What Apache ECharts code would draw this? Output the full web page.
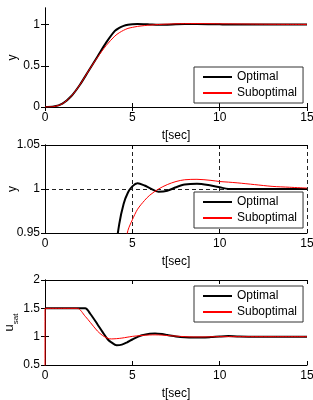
<!DOCTYPE html>
<html>
<head>
<meta charset="utf-8">
<script src="https://cdn.jsdelivr.net/npm/echarts@6/dist/echarts.min.js"></script>
<style>html,body{margin:0;padding:0;background:#fff}#c{width:313px;height:400px}</style>
</head>
<body>
<div id="c"></div>
<script>
// time axis for y responses
var tY = [0, 0.5, 1, 1.5, 2, 2.5, 3, 3.5, 4, 4.25, 4.5, 4.75, 5, 5.3, 5.7, 6, 6.5, 7, 7.5, 8, 8.7, 9.5, 10, 10.5, 11, 12, 13, 14, 15];
var yOptimal = [0, 0.005, 0.04, 0.13, 0.27, 0.44, 0.61, 0.78, 0.922, 0.96, 0.983, 0.996, 1.003, 1.0064, 1.004, 1.001, 0.997, 0.998, 1.002, 1.005, 1.006, 1.004, 1.002, 1.0, 1.0, 1.0, 1.0, 1.0, 1.0];
var ySuboptimal = [0, 0.005, 0.04, 0.13, 0.27, 0.44, 0.6, 0.745, 0.86, 0.9, 0.93, 0.953, 0.965, 0.977, 0.987, 0.993, 1.0, 1.005, 1.0085, 1.0105, 1.011, 1.0098, 1.0085, 1.0078, 1.007, 1.005, 1.003, 1.002, 1.001];
// time axes for saturated control
var tUOpt = [0, 1, 1.85, 2.3, 2.6, 3, 3.3, 3.6, 3.8, 4.1, 4.4, 4.7, 5, 5.5, 6, 6.3, 6.7, 7, 7.5, 8, 8.5, 9, 9.5, 10, 10.5, 11, 12, 13, 15];
var uOptimal = [1.5, 1.5, 1.5, 1.5, 1.4, 1.22, 1.08, 0.95, 0.9, 0.85, 0.86, 0.9, 0.95, 1.02, 1.05, 1.055, 1.045, 1.03, 1.005, 0.99, 0.985, 0.985, 0.992, 1.003, 1.01, 1.005, 1.0, 1.0, 1.0];
var tUSub = [0, 0.001, 1, 1.85, 2.3, 2.6, 3, 3.3, 3.6, 3.8, 4.1, 4.4, 4.7, 5, 5.5, 6, 6.3, 6.7, 7, 7.5, 8, 8.5, 9, 9.5, 10, 10.5, 11, 12, 13, 15];
var uSuboptimal = [0, 1.5, 1.5, 1.5, 1.36, 1.25, 1.1, 1.02, 0.97, 0.96, 0.965, 0.975, 0.99, 1.005, 1.02, 1.03, 1.032, 1.028, 1.02, 1.01, 1.0, 0.995, 0.995, 0.998, 1.0, 1.0, 1.0, 1.0, 1.0, 1.0];
var names = ['Optimal', 'Suboptimal'];

function pairs(xs, ys){ return xs.map(function(x,i){ return [x, ys[i]]; }); }

var FONT = "'Liberation Sans', Arial, Helvetica, sans-serif";
var grids = [
  {left:45, right:6, top:8, height:99, containLabel:false, outerBoundsMode:'none'},
  {left:45, right:6, top:145, height:88, containLabel:false, outerBoundsMode:'none'},
  {left:45, right:6, top:280, height:85, containLabel:false, outerBoundsMode:'none'}
];
var yCfg = [
  {min:0, max:1.2, interval:0.5, custom:[0,0.5,1], name:'y', gap:26, grid:false},
  {min:0.95, max:1.05, interval:0.05, custom:[0.95,1,1.05], name:'y', gap:26, grid:true},
  {min:0.5, max:2, interval:0.5, custom:[0.5,1,1.5,2], name:'{u|u}{s|sat}', gap:25, grid:false}
];
var axisLine = {show:true, lineStyle:{color:'#000', width:1}};
var tick = {show:true, inside:true, length:4, lineStyle:{color:'#000'}};
var xAxes = [], yAxes = [];
for (var i=0;i<3;i++){
  var g = yCfg[i].grid;
  xAxes.push({type:'value', gridIndex:i, min:0, max:15, interval:5, position:'bottom',
    name:'t[sec]', nameLocation:'middle', nameGap:23, nameMoveOverlap:false,
    nameTextStyle:{color:'#000', fontSize:12, fontFamily:FONT},
    axisLine:axisLine, axisTick:tick,
    axisLabel:{color:'#000', fontSize:12, fontFamily:FONT, margin:5},
    splitLine:{show:g, lineStyle:{color:'#222', type:[4,3], width:1}}});
  yAxes.push({type:'value', gridIndex:i, min:yCfg[i].min, max:yCfg[i].max, interval:yCfg[i].interval, position:'left',
    name:yCfg[i].name, nameLocation:'middle', nameGap:yCfg[i].gap, nameRotate:90, nameMoveOverlap:false,
    nameTextStyle:{color:'#000', fontSize:12, fontFamily:FONT,
      rich:{u:{fontSize:13, fontFamily:FONT, color:'#000', padding:[0,0,4,0], verticalAlign:'bottom'},
            s:{fontSize:8, fontFamily:FONT, color:'#000', verticalAlign:'bottom'}}},
    axisLine:axisLine,
    axisTick:{show:true, inside:true, length:4, lineStyle:{color:'#000'}, customValues:yCfg[i].custom},
    axisLabel:{color:'#000', fontSize:12, fontFamily:FONT, margin:5, customValues:yCfg[i].custom,
      formatter:function(v){ return String(+(+v).toFixed(2)); }},
    splitLine:{show:g, lineStyle:{color:'#222', type:[4,3], width:1}}});
}
for (var j=0;j<3;j++){
  xAxes.push({type:'value', gridIndex:j, min:0, max:15, interval:5, position:'top',
    axisLine:axisLine, axisTick:tick, axisLabel:{show:false}, splitLine:{show:false}});
  yAxes.push({type:'value', gridIndex:j, min:yCfg[j].min, max:yCfg[j].max, interval:yCfg[j].interval, position:'right',
    axisLine:axisLine,
    axisTick:{show:true, inside:true, length:4, lineStyle:{color:'#000'}, customValues:yCfg[j].custom},
    axisLabel:{show:false}, splitLine:{show:false}});
}

var series = [];
var dataSets = [[pairs(tY,yOptimal), pairs(tY,ySuboptimal)],
                [pairs(tY,yOptimal), pairs(tY,ySuboptimal)],
                [pairs(tUOpt,uOptimal), pairs(tUSub,uSuboptimal)]];
for (var k=0;k<3;k++){
  series.push({type:'line', name:names[0], xAxisIndex:k, yAxisIndex:k, data:dataSets[k][0],
    symbol:'none', smooth:0.3, clip:true, lineStyle:{color:'#000', width:2}, itemStyle:{color:'#000'}, animation:false});
  series.push({type:'line', name:names[1], xAxisIndex:k, yAxisIndex:k, data:dataSets[k][1],
    symbol:'none', smooth:0.3, clip:true, lineStyle:{color:'#f00', width:1}, itemStyle:{color:'#f00'}, animation:false});
}
var legendTops = [67, 192, 286];
var legends = legendTops.map(function(t){
  return {data:names, orient:'vertical', left:194, top:t, padding:[4,6,4,8], itemGap:4,
    itemWidth:29, itemHeight:12, backgroundColor:'#fff', borderColor:'#333', borderWidth:1,
    itemStyle:{opacity:0},
    textStyle:{color:'#000', fontSize:12, fontFamily:FONT}, selectedMode:false};
});

var chart = echarts.init(document.getElementById('c'), null, {renderer:'canvas'});
chart.setOption({
  animation:false,
  backgroundColor:'#fff',
  grid:grids,
  xAxis:xAxes,
  yAxis:yAxes,
  legend:legends,
  series:series
});
</script>
</body>
</html>
